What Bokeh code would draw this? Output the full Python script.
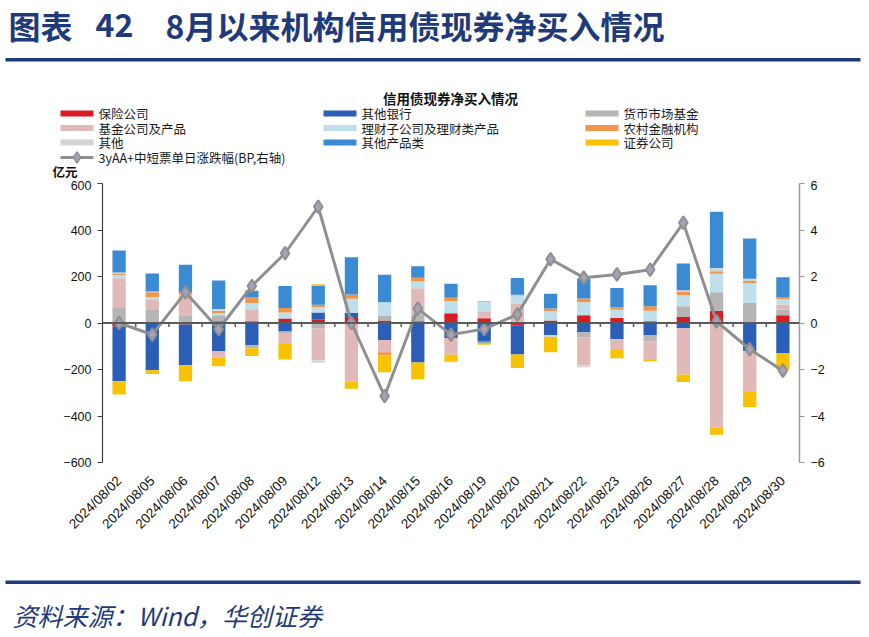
import numpy as np
from bokeh.plotting import figure
from bokeh.models import Range1d, FactorRange, LinearAxis, FixedTicker, Span, ColumnDataSource
from bokeh.layouts import column
from bokeh.embed import file_html
from bokeh.resources import INLINE
from bokeh.core.properties import value

# ---------------- data ----------------
dates = ["2024/08/02", "2024/08/05", "2024/08/06", "2024/08/07", "2024/08/08", "2024/08/09",
         "2024/08/12", "2024/08/13", "2024/08/14", "2024/08/15", "2024/08/16", "2024/08/19",
         "2024/08/20", "2024/08/21", "2024/08/22", "2024/08/23", "2024/08/26", "2024/08/27",
         "2024/08/28", "2024/08/29", "2024/08/30"]

insurance = [-15, 0, -6, 7, 7, 19, 16, 21, 11, 7, 42, 20, -10, 11, 33, 21, 7, 26, 53, 0, 33]
other_banks = [-235, -203, -176, -122, -96, -37, 29, 23, -73, -170, -64, -79, -125, -52, -40, -70, -52, -23, 0, -122, -129]
money_funds = [64, 56, 33, 26, -13, -6, -23, 0, 21, 30, 0, 0, 0, 0, -21, 0, -27, 46, 79, 86, 24]
fund_products = [129, 46, 90, -27, 52, -47, -137, -253, -53, 112, -73, 27, 84, 0, -122, -46, -77, -199, -451, -175, 23]
wealth_mgmt = [13, 9, 0, 9, 27, 26, 23, 60, 57, 30, 53, 43, 34, 40, 56, 36, 46, 47, 80, 86, 23]
rural_fin = [7, 21, 9, 11, 24, 19, 10, 19, -13, 16, 14, 4, 4, 11, 16, 11, 19, 16, 11, 9, 7]
others = [4, 4, 0, 7, 0, 0, -11, 0, 0, 0, 0, 0, 0, -8, -7, 0, 0, 6, 14, 9, 0]
other_products = [95, 77, 119, 123, 29, 95, 82, 160, 119, 49, 60, -6, 72, 64, 86, 83, 90, 115, 242, 173, 87]
securities = [-57, -16, -69, -37, -33, -67, 7, -30, -73, -72, -30, -9, -59, -66, 0, -36, -9, -32, -30, -64, -72]
yield_chg_bp = [0, -0.5, 1.32, -0.27, 1.59, 3.0, 5.0, 0, -3.14, 0.62, -0.5, -0.26, 0.37, 2.74,
                1.95, 2.09, 2.29, 4.31, 0.07, -1.13, -2.05]

series_names = ["保险公司", "其他银行", "货币市场基金", "基金公司及产品", "理财子公司及理财类产品",
                "农村金融机构", "其他", "其他产品类", "证券公司"]
series_values = [insurance, other_banks, money_funds, fund_products, wealth_mgmt,
                 rural_fin, others, other_products, securities]
series_colors = ["#DA1B22", "#2B5FB7", "#B5B5B5", "#E2B9B9", "#BFE0EA",
                 "#F0954A", "#D4D4D4", "#3A8BD4", "#F8C200"]
line_name = "3yAA+中短票单日涨跌幅(BP,右轴)"

left_ticks = [-600, -400, -200, 0, 200, 400, 600]
right_ticks = [-6, -4, -2, 0, 2, 4, 6]

NAVY = "#1F3A7A"
CJK = "Noto Sans CJK SC"
LAT = "Liberation Sans"
W = 869

# ---------------- header ----------------
h = figure(width=W, height=180, x_range=Range1d(0, W), y_range=Range1d(180, 0),
           output_backend="svg", toolbar_location=None, min_border=0, frame_align=False,
           x_axis_location=None, y_axis_location=None, title=None)
h.grid.visible = False
h.outline_line_color = None

h.text(x=[8, 95, 165], y=[24, 24, 24], text=["图表", "42", "8月以来机构信用债现券净买入情况"],
       text_font=value(CJK), text_font_style="bold", text_font_size="32px",
       text_color=NAVY, text_baseline="middle", text_align="left")
h.quad(left=[5], right=[860], top=[57.5], bottom=[61], fill_color=NAVY, line_color=None)

h.text(x=[450], y=[97], text=["信用债现券净买入情况"], text_font=value(CJK), text_font_style="bold",
       text_font_size="13.5px", text_color="#111111", text_baseline="middle", text_align="center")

col_x = [60, 323, 585]
row_y = [113, 127.5, 142, 157]
sw_w = 33
for i, (nm, col) in enumerate(zip(series_names, series_colors)):
    r, c = divmod(i, 3)
    x0 = col_x[c]
    y0 = row_y[r]
    h.quad(left=[x0], right=[x0 + sw_w], top=[y0 - 3], bottom=[y0 + 3], fill_color=col, line_color=None)
    h.text(x=[x0 + sw_w + 5], y=[y0], text=[nm], text_font=value(CJK), text_font_size="12.5px",
           text_color="#1A1A1A", text_baseline="middle", text_align="left")
# line legend item
lx0 = col_x[0]
ly = row_y[3]
h.line(x=[lx0, lx0 + sw_w], y=[ly, ly], line_color="#8F8F8F", line_width=3)
h.scatter(x=[lx0 + sw_w / 2], y=[ly], marker="diamond", size=11, fill_color="#A7A2B8",
          line_color="#8F8F8F", line_width=1.5)
h.text(x=[lx0 + sw_w + 5], y=[ly], text=[line_name], text_font=value(CJK), text_font_size="12.5px",
       text_color="#1A1A1A", text_baseline="middle", text_align="left")
h.text(x=[52], y=[171], text=["亿元"], text_font=value(CJK), text_font_style="bold",
       text_font_size="12.5px", text_color="#111111", text_baseline="middle", text_align="left")

# ---------------- main chart ----------------
p = figure(width=W, height=380, x_range=FactorRange(*dates), y_range=Range1d(-600, 600),
           output_backend="svg", toolbar_location=None, title=None, frame_align=False,
           min_border_left=102, min_border_right=70, min_border_top=3, min_border_bottom=98)
p.x_range.range_padding = 0
p.grid.visible = False
p.outline_line_color = None

n = len(dates)
pos_base = np.zeros(n)
neg_base = np.zeros(n)
for nm, vals, col in zip(series_names, series_values, series_colors):
    v = np.array(vals, dtype=float)
    pos = np.where(v > 0, v, 0.0)
    neg = np.where(v < 0, v, 0.0)
    mp = v > 0
    if mp.any():
        src = ColumnDataSource(dict(x=[d for d, m in zip(dates, mp) if m],
                                    b=pos_base[mp], t=(pos_base + pos)[mp]))
        p.vbar(x="x", bottom="b", top="t", width=0.4, source=src, fill_color=col, line_color=None)
    mn = v < 0
    if mn.any():
        src = ColumnDataSource(dict(x=[d for d, m in zip(dates, mn) if m],
                                    b=neg_base[mn], t=(neg_base + neg)[mn]))
        p.vbar(x="x", bottom="b", top="t", width=0.4, source=src, fill_color=col, line_color=None)
    pos_base += pos
    neg_base += neg

# zero axis line and category ticks
p.add_layout(Span(location=0, dimension="width", line_color="#5A5A5A", line_width=2))
p.segment(x0=[(d, -0.5) for d in dates[1:]], x1=[(d, -0.5) for d in dates[1:]],
          y0=[0] * (n - 1), y1=[-17] * (n - 1), line_color="#5A5A5A", line_width=1.5)

# right axis series
p.extra_y_ranges = {"bp": Range1d(-6, 6)}
p.line(x=dates, y=yield_chg_bp, y_range_name="bp", line_color="#8F8F8F", line_width=3)
p.scatter(x=dates, y=yield_chg_bp, y_range_name="bp", marker="diamond", size=13,
          fill_color="#A7A2B8", line_color="#8F8F8F", line_width=2)

ya = p.yaxis[0]
ya.ticker = FixedTicker(ticks=left_ticks)
ya.minor_tick_line_color = None
ya.major_tick_in = 0
ya.major_tick_out = 5
ya.axis_line_color = "#404040"
ya.major_tick_line_color = "#404040"
ya.axis_line_width = 1.2
ya.major_label_text_font = LAT
ya.major_label_text_font_size = "12.5px"
ya.major_label_text_color = "#111111"
ya.major_label_standoff = 6

ra = LinearAxis(y_range_name="bp", ticker=FixedTicker(ticks=right_ticks))
ra.minor_tick_line_color = None
ra.major_tick_in = 0
ra.major_tick_out = 5
ra.axis_line_color = "#9A9A9A"
ra.major_tick_line_color = "#9A9A9A"
ra.axis_line_width = 1.5
ra.major_label_text_font = LAT
ra.major_label_text_font_size = "12.5px"
ra.major_label_text_color = "#111111"
ra.major_label_standoff = 6
p.add_layout(ra, "right")

xa = p.xaxis[0]
xa.axis_line_color = None
xa.major_tick_line_color = None
xa.minor_tick_line_color = None
xa.major_tick_out = 0
xa.major_label_orientation = np.pi / 4
xa.major_label_text_font = LAT
xa.major_label_text_font_size = "13.5px"
xa.major_label_text_color = "#111111"
xa.major_label_standoff = 16

# ---------------- footer ----------------
f = figure(width=W, height=76, x_range=Range1d(0, W), y_range=Range1d(636, 560),
           output_backend="svg", toolbar_location=None, min_border=0, frame_align=False,
           x_axis_location=None, y_axis_location=None, title=None)
f.grid.visible = False
f.outline_line_color = None
f.quad(left=[5], right=[860], top=[580], bottom=[583.5], fill_color=NAVY, line_color=None)
f.text(x=[12], y=[614], text=["资料来源：Wind，华创证券"], text_font=value(CJK),
       text_font_style="italic", text_font_size="25px", text_color=NAVY,
       text_baseline="middle", text_align="left")

layout = column(h, p, f, spacing=0)
open("out.html", "w").write(file_html(layout, INLINE))
